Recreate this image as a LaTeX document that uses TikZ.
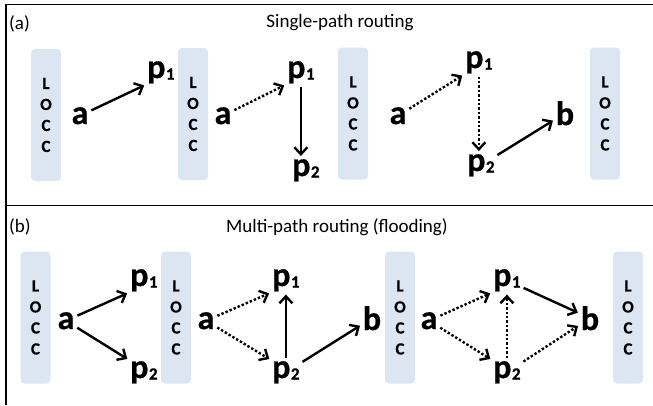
\documentclass[tikz,border=0pt]{standalone}
\usepackage{fontspec}
\setmainfont{Carlito}
\newfontfamily\heavyfont{Carlito Bold}[FakeBold=0.7]
\usetikzlibrary{arrows.meta}
\definecolor{boxblue}{HTML}{DCE6F2}
\newcommand{\pone}{p\kern0.5pt\raisebox{-1.5pt}{\fontsize{17}{17}\selectfont 1}}
\newcommand{\ptwo}{p\kern0.5pt\raisebox{-1.5pt}{\fontsize{17}{17}\selectfont 2}}
\begin{document}
\begin{tikzpicture}[x=1pt,y=-1pt,
  frame/.style={line width=1.4pt},
  locc/.style={fill=boxblue, rounded corners=4pt, minimum width=30pt, minimum height=132pt, inner sep=0pt,
    font=\heavyfont\fontsize{17}{21}\selectfont, align=center},
  lbl/.style={font=\heavyfont\fontsize{34}{34}\selectfont, inner sep=1pt, anchor=base},
  plbl/.style={font=\heavyfont\fontsize{34}{34}\selectfont, inner sep=1pt, anchor=base west},
  ttl/.style={font=\fontsize{19}{19}\selectfont, inner sep=0pt},
  arr/.style={-{Straight Barb[length=7pt,width=13pt]}, line width=2.4pt, shorten <=2pt, shorten >=2pt},
  darr/.style={arr, dotted}
]
\useasboundingbox (0,0) rectangle (653,405);
% frame
\draw[frame] (6,405) -- (6,4.5) -- (653,4.5);
\draw[frame] (6,205.6) -- (653,205.6);
% titles
\node[ttl, anchor=west] (ta) at (9,24) {(a)};
\node[ttl] (tta) at (340,23) {Single-path routing};
\node[ttl, anchor=west] (tb) at (9,227) {(b)};
\node[ttl] (ttb) at (337,227) {Multi-path routing (flooding)};
% ---------- panel (a)
\node[locc] (A1) at (46,115) {L\\O\\C\\C};
\node[locc] (A2) at (193,114) {L\\O\\C\\C};
\node[locc] (A3) at (353,113.5) {L\\O\\C\\C};
\node[locc] (A4) at (605,113.5) {L\\O\\C\\C};
\node[lbl] (aa1) at (80,124) {a};
\node[plbl] (pa1) at (146,78) {\pone};
\node[lbl] (aa2) at (223,124) {a};
\node[plbl] (pa2) at (286,78) {\pone};
\node[plbl] (pa3) at (291,176) {\ptwo};
\node[lbl] (aa3) at (398,124) {a};
\node[plbl] (pa4) at (464,68) {\pone};
\node[plbl] (pa5) at (466,171) {\ptwo};
\node[lbl] (ba1) at (565,125) {b};
\draw[arr] (aa1) -- (pa1.south west);
\draw[darr] (aa2) -- (pa2.south west);
\draw[arr] (pa2.south) -- (pa2.south |- pa3.north);
\draw[darr] (aa3) -- (pa4.south west);
\draw[darr] (pa4.south) -- (pa4.south |- pa5.north);
\draw[arr] (pa5) -- (ba1);
% ---------- panel (b)
\node[locc] (B1) at (35.5,317.5) {L\\O\\C\\C};
\node[locc] (B2) at (176,317.5) {L\\O\\C\\C};
\node[locc] (B3) at (400,317.5) {L\\O\\C\\C};
\node[locc] (B4) at (628,317.5) {L\\O\\C\\C};
\node[lbl] (ab1) at (66,329) {a};
\node[plbl] (pb1) at (129,286) {\pone};
\node[plbl] (pb2) at (129,378) {\ptwo};
\node[lbl] (ab2) at (206,329) {a};
\node[plbl] (pb3) at (271,286) {\pone};
\node[plbl] (pb4) at (271,378) {\ptwo};
\node[lbl] (bb1) at (372,330) {b};
\node[lbl] (ab3) at (429,329) {a};
\node[plbl] (pb5) at (492,286) {\pone};
\node[plbl] (pb6) at (492,378) {\ptwo};
\node[lbl] (bb2) at (590,330) {b};
\draw[arr] (ab1) -- (pb1.south west);
\draw[arr] (ab1) -- (pb2.north west);
\draw[darr] (ab2) -- (pb3.south west);
\draw[darr] (ab2) -- (pb4.north west);
\draw[arr] (pb4.north) -- (pb3.south);
\draw[arr] (pb4) -- (bb1);
\draw[darr] (ab3) -- (pb5.south west);
\draw[darr] (ab3) -- (pb6.north west);
\draw[darr] (pb6.north) -- (pb5.south);
\draw[arr] (pb5) -- (bb2);
\draw[darr] (pb6) -- (bb2);
\end{tikzpicture}
\end{document}
